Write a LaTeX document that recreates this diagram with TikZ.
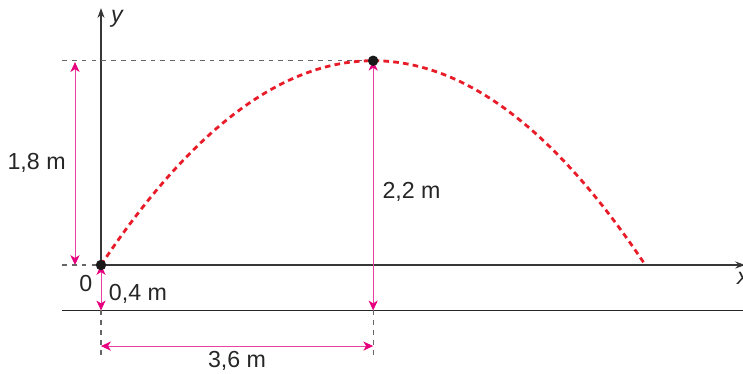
\documentclass[tikz,border=0pt]{standalone}
\usepackage{fontspec}
\setmainfont{Liberation Sans}
\usetikzlibrary{positioning,arrows.meta,calc}
\definecolor{mag}{RGB}{230,0,126}
\definecolor{trail}{RGB}{232,28,40}
\definecolor{axisgray}{RGB}{55,55,55}
\tikzset{
  dim/.style={mag!75,line width=0.7pt,{Stealth[length=7pt,width=6.5pt,inset=2pt,color=mag]}-{Stealth[length=7pt,width=6.5pt,inset=2pt,color=mag]}},
  guide/.style={gray!80!black,line width=0.8pt,dash pattern=on 3.4pt off 3.6pt},
  lbl/.style={font=\fontsize{16.5}{19}\selectfont,text=black!85},
  axlbl/.style={font=\fontsize{16.5}{19}\selectfont\itshape,text=black!85}
}
\begin{document}
\begin{tikzpicture}[>=Latex,x=1.89cm,y=2.8375cm]
  \useasboundingbox (-1.336,-0.960) rectangle (8.492,2.335);
  \def\H{1.8}
  \def\D{3.6}
  \coordinate (O) at (0,0);
  \coordinate (T) at (\D,\H);
  \coordinate (G) at (0,-0.4);
  \coordinate (GT) at (\D,-0.4);
  % ground and axes
  \draw[black!85,line width=1pt] (-0.516,-0.4) -- (8.6,-0.4);
  \draw[axisgray,line width=1pt,-{Stealth[length=7pt,width=5pt]}] (O) -- (0,2.264);
  \node[axlbl] at (0.21,2.17) {y};
  \draw[axisgray,line width=1pt,-{Stealth[length=7pt,width=5pt]}] (O) -- (8.52,0);
  \node[axlbl,anchor=north west,inner sep=0pt] at (8.41,-0.06) {x};
  % guides
  \draw[guide] (-0.516,\H) -- (T);
  \draw[guide] (-0.516,0) -- (O);
  \draw[guide] (G) -- (0,-0.81);
  \draw[guide] (GT) -- (\D,-0.81);
  % trajectory
  \draw[trail,line width=2pt,dash pattern=on 4pt off 3pt,smooth,samples=80,domain=0:2*\D]
    plot (\x,{\H-\H*((\x-\D)/\D)^2});
  % dimensions
  \draw[dim,shorten >=1pt] (-0.344,0) -- (-0.344,\H) node[midway,left=3pt,lbl]{1,8 m};
  \draw[dim] (GT) -- (T) node[pos=0.474,right=3pt,lbl]{2,2 m};
  \draw[dim] (G) -- (O);
  \node[lbl,anchor=west] at (0.04,-0.25) {0,4 m};
  \draw[dim] (0,-0.714) -- (\D,-0.714) node[midway,below=0pt,lbl]{3,6 m};
  \node[lbl] at (-0.2,-0.16) {0};
  % points
  \fill[black!90] (O) circle (3.7pt);
  \fill[black!90] (T) circle (3.7pt);
\end{tikzpicture}
\end{document}
